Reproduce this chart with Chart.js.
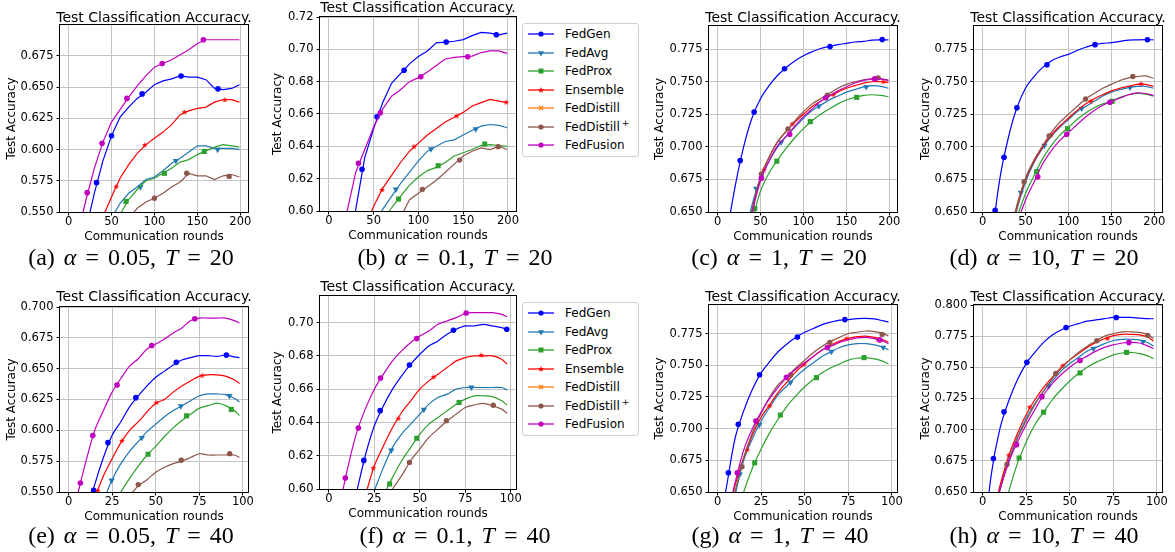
<!DOCTYPE html>
<html>
<head>
<meta charset="utf-8">
<script src="https://cdn.jsdelivr.net/npm/chart.js@4.4.1/dist/chart.umd.min.js"></script>
<style>
  body { margin:0; width:1175px; height:552px; background:#fff; position:relative; overflow:hidden; }
  canvas { position:absolute; }
  .t { position:absolute; transform:translate(-50%,-50%); white-space:nowrap; line-height:1.2; color:#000; }
  .ttl { font:14px "DejaVu Sans"; }
  .cap { font:24px "Liberation Serif"; word-spacing:3px; }
  .leg { position:absolute; width:115px; height:132px; border:1px solid #d0d0d0; border-radius:3px; background:#fff; font:12px "DejaVu Sans"; }
  .row { position:absolute; left:4px; height:18px; line-height:18px; white-space:nowrap; }
  .row svg { vertical-align:top; margin-right:10px; }
  .sup { position:relative; top:-5px; font-size:9px; line-height:0; margin-left:2px; }
</style>
</head>
<body>
<script>
var names = ['FedGen', 'FedAvg', 'FedProx', 'Ensemble', 'FedDistill', 'FedDistill<span class="sup">+</span>', 'FedFusion'];
var colors = ['#0000ff', '#1f77b4', '#2ca02c', '#ff0000', '#ff7f0e', '#8c564b', '#bf00bf'];

var rounds200 = [0,10,20,30,40,50,60,70,80,90,100,110,120,130,140,150,160,170,180,190,199];
var rounds100 = [0,5,10,15,20,25,30,35,40,45,50,55,60,65,70,75,80,85,90,95,98];
var n = null;

// (a) alpha 0.05, T 20
var aGen  = [n,n,0.535,0.565,0.591,0.611,0.626,0.634,0.641,0.646,0.652,0.655,0.6566,0.659,0.658,0.658,0.656,0.649,0.648,0.649,0.652];
var aAvg  = [n,n,n,n,n,0.545,0.557,0.565,0.570,0.576,0.578,0.583,0.589,0.593,0.598,0.603,0.603,0.601,0.601,0.601,0.600];
var aProx = [n,n,n,n,n,n,0.548,0.560,0.568,0.575,0.577,0.581,0.585,0.590,0.592,0.596,0.599,0.602,0.604,0.603,0.602];
var aEns  = [n,n,n,n,0.546,0.562,0.577,0.588,0.597,0.604,0.609,0.614,0.620,0.628,0.631,0.633,0.634,0.638,0.640,0.640,0.638];
var aDis  = [n,n,n,n,n,n,n,0.545,0.553,0.558,0.561,0.565,0.570,0.574,0.581,0.579,0.579,0.576,0.579,0.580,0.578];
var aFus  = [n,0.530,0.559,0.585,0.606,0.622,0.632,0.642,0.651,0.659,0.666,0.669,0.672,0.676,0.680,0.685,0.688,0.688,0.688,0.688,0.688];
var aGenMk  = [[32.6,0.5735],[50,0.611],[85.7,0.6446],[131,0.659],[174,0.6486]];
var aAvgMk  = [[83.7,0.570],[125,0.591],[173.6,0.600]];
var aProxMk = [[67,0.5585],[111.6,0.581],[158,0.5985]];
var aEnsMk  = [[55.4,0.5703],[88.8,0.6036],[135,0.630],[182,0.6398]];
var aDisMk  = [[100,0.561],[137.6,0.581],[187,0.5785]];
var aFusMk  = [[21.7,0.5655],[39,0.605],[68,0.641],[109,0.669],[157,0.688]];

// (b) alpha 0.1, T 20
var bGen  = [n,n,0.570,0.601,0.633,0.651,0.667,0.679,0.685,0.691,0.6955,0.699,0.704,0.7045,0.705,0.706,0.7085,0.7105,0.710,0.709,0.710];
var bAvg  = [n,n,n,n,n,0.590,0.601,0.609,0.617,0.624,0.631,0.637,0.640,0.643,0.644,0.647,0.650,0.6525,0.6535,0.653,0.6515];
var bProx = [n,n,n,n,n,n,0.594,0.602,0.609,0.616,0.621,0.625,0.627,0.630,0.634,0.636,0.638,0.6405,0.641,0.6405,0.640];
var bEns  = [n,n,n,n,0.590,0.603,0.614,0.622,0.630,0.637,0.642,0.647,0.651,0.655,0.658,0.661,0.665,0.667,0.669,0.668,0.667];
var bDis  = [n,n,n,n,n,n,n,n,0.596,0.607,0.611,0.615,0.619,0.624,0.629,0.634,0.637,0.639,0.638,0.640,0.638];
var bFus  = [n,0.570,0.599,0.624,0.638,0.652,0.663,0.671,0.675,0.680,0.6825,0.686,0.690,0.694,0.695,0.6955,0.6958,0.698,0.699,0.699,0.6975];
var bGenMk  = [[37,0.6258],[53.7,0.6583],[84,0.687],[131,0.7045],[187,0.709]];
var bAvgMk  = [[74.8,0.6134],[114,0.6383],[164,0.6507]];
var bProxMk = [[77.8,0.6074],[122,0.628],[174,0.6414]];
var bEnsMk  = [[59.3,0.613],[95,0.6398],[142.6,0.6587],[198,0.6672]];
var bDisMk  = [[104.4,0.6134],[146,0.6315],[189,0.6398]];
var bFusMk  = [[33,0.6295],[57.4,0.6608],[102.6,0.683],[155,0.6954]];

// (c) alpha 1, T 20
var cGen  = [n,0.630,0.668,0.699,0.722,0.737,0.747,0.755,0.761,0.766,0.770,0.773,0.7755,0.777,0.7785,0.7795,0.7805,0.781,0.782,0.7822,0.7822];
var cAvg  = [n,n,n,0.625,0.655,0.676,0.689,0.700,0.708,0.715,0.722,0.728,0.732,0.736,0.739,0.742,0.744,0.746,0.747,0.7465,0.745];
var cProx = [n,n,n,0.615,0.642,0.666,0.680,0.690,0.699,0.707,0.714,0.720,0.725,0.729,0.733,0.736,0.738,0.7395,0.740,0.7395,0.7385];
var cEns  = [n,n,n,0.615,0.650,0.676,0.692,0.704,0.712,0.719,0.725,0.731,0.735,0.739,0.742,0.745,0.747,0.749,0.750,0.750,0.7495];
var cDis  = [n,n,n,0.615,0.651,0.677,0.692,0.704,0.712,0.720,0.727,0.733,0.737,0.741,0.745,0.748,0.750,0.7515,0.7525,0.7525,0.751];
var cFus  = [n,n,n,0.612,0.648,0.674,0.689,0.701,0.708,0.716,0.723,0.729,0.735,0.739,0.743,0.746,0.749,0.751,0.752,0.752,0.751];
var cGenMk  = [[26.4,0.6895],[42.6,0.7268],[78,0.760],[131,0.777],[191.7,0.7824]];
var cAvgMk  = [[45,0.668],[74,0.7036],[118,0.7313],[173,0.746]];
var cProxMk = [[43.4,0.6526],[69,0.689],[108,0.7194],[162,0.738]];
var cEnsMk  = [[54,0.6824],[87,0.7175],[135,0.740],[193,0.750]];
var cDisMk  = [[51,0.6793],[82,0.7138],[128,0.7397],[187,0.753]];
var cFusMk  = [[51,0.676],[84,0.7097],[126,0.7377],[183,0.7522]];

// (d) alpha 10, T 20
var dGen  = [n,0.625,0.675,0.707,0.730,0.745,0.754,0.761,0.766,0.769,0.771,0.774,0.7765,0.7785,0.7795,0.780,0.781,0.782,0.7822,0.7823,0.7822];
var dAvg  = [n,n,n,0.625,0.652,0.673,0.688,0.699,0.708,0.715,0.721,0.727,0.731,0.735,0.739,0.742,0.744,0.7455,0.7465,0.7465,0.745];
var dProx = [n,n,n,0.618,0.645,0.664,0.678,0.691,0.701,0.709,0.715,0.721,0.726,0.730,0.733,0.735,0.738,0.740,0.741,0.7405,0.739];
var dEns  = [n,n,n,0.627,0.654,0.675,0.689,0.700,0.709,0.716,0.722,0.728,0.733,0.737,0.740,0.743,0.745,0.7465,0.748,0.748,0.7465];
var dDis  = [n,n,n,0.628,0.655,0.676,0.690,0.701,0.711,0.719,0.725,0.731,0.7367,0.741,0.745,0.748,0.751,0.753,0.754,0.7545,0.7525];
var dFus  = [n,n,n,0.612,0.640,0.659,0.673,0.687,0.697,0.705,0.711,0.717,0.723,0.728,0.732,0.735,0.7375,0.740,0.7415,0.741,0.7395];
var dGenMk  = [[14.7,0.6513],[25,0.692],[40,0.730],[75,0.763],[131,0.7785],[192,0.7823]];
var dAvgMk  = [[44.6,0.665],[72,0.701],[115.5,0.7295],[171.7,0.7456]];
var dProxMk = [[63,0.681],[99,0.714],[151,0.735]];
var dEnsMk  = [[79.5,0.709],[126,0.735],[184.5,0.7484]];
var dDisMk  = [[48.4,0.6732],[77.5,0.7084],[120,0.7367],[175,0.754]];
var dFusMk  = [[64.3,0.677],[98,0.7097],[148.4,0.7343]];

// (e) alpha 0.05, T 40
var eGen  = [n,n,0.530,0.556,0.578,0.596,0.607,0.619,0.628,0.636,0.643,0.648,0.653,0.657,0.659,0.6605,0.6605,0.660,0.661,0.6595,0.659];
var eAvg  = [n,n,n,n,0.543,0.560,0.573,0.583,0.591,0.599,0.605,0.611,0.616,0.620,0.624,0.628,0.6295,0.6295,0.629,0.626,0.623];
var eProx = [n,n,n,n,n,0.538,0.550,0.561,0.571,0.580,0.587,0.595,0.602,0.608,0.613,0.618,0.620,0.622,0.620,0.616,0.612];
var eEns  = [n,n,n,0.545,0.563,0.577,0.590,0.600,0.607,0.615,0.622,0.625,0.631,0.636,0.640,0.644,0.645,0.645,0.644,0.641,0.638];
var eDis  = [n,n,n,n,n,n,n,0.547,0.555,0.560,0.566,0.570,0.573,0.575,0.578,0.581,0.580,0.580,0.580,0.580,0.578];
var eFus  = [n,0.547,0.575,0.600,0.616,0.631,0.642,0.652,0.658,0.666,0.670,0.674,0.679,0.683,0.689,0.691,0.691,0.691,0.691,0.689,0.687];
var eGenMk  = [[14.4,0.5514],[22.6,0.590],[38.6,0.6265],[61.8,0.6552],[90.5,0.661]];
var eAvgMk  = [[24.7,0.5595],[42,0.594],[64.4,0.6197],[92.2,0.628]];
var eProxMk = [[45.6,0.5806],[67.7,0.6118],[93.3,0.617]];
var eEnsMk  = [[16.7,0.551],[30.6,0.5915],[50.4,0.6224],[76.6,0.6444]];
var eDisMk  = [[40,0.556],[64.6,0.5758],[92.4,0.5811]];
var eFusMk  = [[6.8,0.5573],[13.9,0.5958],[27.8,0.6368],[47.7,0.6688],[72.4,0.6905]];

// (f) alpha 0.1, T 40
var fGen  = [n,n,n,0.597,0.620,0.638,0.650,0.660,0.668,0.675,0.681,0.686,0.689,0.693,0.696,0.698,0.698,0.699,0.698,0.697,0.696];
var fAvg  = [n,n,n,n,n,0.599,0.613,0.625,0.633,0.639,0.645,0.651,0.655,0.657,0.660,0.661,0.661,0.661,0.661,0.661,0.6595];
var fProx = [n,n,n,n,n,n,0.596,0.607,0.617,0.625,0.633,0.639,0.643,0.647,0.651,0.654,0.656,0.656,0.6555,0.653,0.6505];
var fEns  = [n,n,n,n,0.596,0.614,0.626,0.637,0.646,0.653,0.660,0.665,0.669,0.673,0.677,0.679,0.680,0.680,0.680,0.678,0.675];
var fDis  = [n,n,n,n,n,n,0.590,0.600,0.608,0.617,0.624,0.631,0.636,0.641,0.645,0.649,0.6505,0.6515,0.650,0.648,0.6455];
var fFus  = [n,0.585,0.611,0.633,0.648,0.660,0.669,0.677,0.683,0.688,0.692,0.695,0.699,0.701,0.703,0.7055,0.706,0.706,0.706,0.705,0.7035];
var fGenMk  = [[19.2,0.6172],[28.2,0.6471],[44.3,0.6745],[68.5,0.6954],[97.8,0.696]];
var fAvgMk  = [[34.3,0.6232],[52.2,0.6477],[78.4,0.6611]];
var fProxMk = [[33.4,0.603],[48.3,0.6305],[71.6,0.652]];
var fEnsMk  = [[24.4,0.6126],[38.2,0.6423],[57.6,0.6673],[83.8,0.6804]];
var fDisMk  = [[44.3,0.616],[64.6,0.641],[90.4,0.6503]];
var fFusMk  = [[9,0.6066],[16.2,0.6367],[28.4,0.6667],[48.3,0.6904],[75.5,0.7058]];

// (g) alpha 1, T 40
var gGen  = [0.615,0.653,0.692,0.714,0.731,0.744,0.753,0.761,0.767,0.772,0.776,0.779,0.782,0.784,0.7855,0.786,0.7868,0.787,0.7865,0.785,0.784];
var gAvg  = [n,0.615,0.647,0.675,0.692,0.706,0.717,0.727,0.734,0.741,0.747,0.752,0.757,0.7605,0.764,0.766,0.767,0.767,0.766,0.764,0.762];
var gProx = [n,n,0.625,0.650,0.669,0.684,0.697,0.708,0.718,0.726,0.733,0.739,0.744,0.748,0.751,0.754,0.7555,0.756,0.755,0.753,0.751];
var gEns  = [n,0.625,0.655,0.677,0.695,0.709,0.719,0.729,0.737,0.745,0.751,0.757,0.762,0.766,0.769,0.7712,0.7725,0.773,0.772,0.770,0.768];
var gDis  = [n,0.620,0.650,0.677,0.697,0.712,0.725,0.735,0.741,0.748,0.754,0.760,0.765,0.769,0.772,0.775,0.776,0.777,0.7765,0.775,0.773];
var gFus  = [n,0.625,0.657,0.683,0.700,0.713,0.724,0.733,0.741,0.747,0.752,0.757,0.762,0.765,0.768,0.770,0.7715,0.772,0.771,0.769,0.767];
var gGenMk  = [[6.2,0.6652],[11.9,0.7034],[24.1,0.7425],[45.8,0.7723],[73,0.786]];
var gAvgMk  = [[12.8,0.664],[23.9,0.703],[41.8,0.7365],[65.3,0.7608],[95,0.764]];
var gProxMk = [[21.3,0.673],[36,0.7107],[56.7,0.7402],[84,0.756]];
var gEnsMk  = [[17,0.6833],[29.8,0.718],[49.5,0.7506],[74,0.771],[92,0.770]];
var gDisMk  = [[14,0.670],[42,0.7425],[64.4,0.768],[94.4,0.7742]];
var gFusMk  = [[11.3,0.6652],[22,0.706],[39.5,0.7404],[63,0.764],[93,0.770]];

// (h) alpha 10, T 40
var hGen  = [0.600,0.664,0.701,0.723,0.740,0.753,0.762,0.770,0.776,0.780,0.783,0.785,0.787,0.788,0.789,0.790,0.790,0.790,0.7895,0.789,0.789];
var hAvg  = [n,0.620,0.652,0.676,0.694,0.709,0.721,0.731,0.739,0.747,0.753,0.758,0.763,0.766,0.769,0.7715,0.7725,0.7725,0.772,0.7695,0.767];
var hProx = [n,n,0.622,0.650,0.673,0.690,0.704,0.714,0.724,0.732,0.739,0.745,0.750,0.754,0.757,0.760,0.7615,0.762,0.761,0.759,0.757];
var hEns  = [n,0.625,0.655,0.679,0.697,0.712,0.724,0.734,0.742,0.750,0.756,0.761,0.766,0.770,0.773,0.7755,0.7765,0.7765,0.776,0.774,0.771];
var hDis  = [n,0.625,0.652,0.674,0.693,0.707,0.720,0.731,0.741,0.749,0.756,0.762,0.767,0.771,0.775,0.777,0.7785,0.7785,0.778,0.776,0.773];
var hFus  = [n,0.620,0.652,0.674,0.690,0.704,0.716,0.728,0.737,0.744,0.750,0.755,0.759,0.763,0.766,0.768,0.7695,0.770,0.7695,0.767,0.765];
var hGenMk  = [[6.25,0.6768],[12.3,0.7143],[25.4,0.754],[47.9,0.782],[76.7,0.790]];
var hAvgMk  = [[38,0.735],[63.6,0.765],[92,0.7705]];
var hProxMk = [[21,0.6773],[35,0.714],[55.9,0.7455],[82.6,0.762]];
var hEnsMk  = [[15,0.6795],[27,0.718],[46,0.7513],[71.6,0.773]];
var hDisMk  = [[14,0.672],[42,0.745],[65.5,0.7713],[94.7,0.7756]];
var hFusMk  = [[19.5,0.688],[34,0.7265],[55.9,0.7555],[83.9,0.770]];

// which style (index into names/colors) each plotted series uses
var plotted = [0, 1, 2, 3, 5, 6];

// ---------------------------------------------------------- markers
function starCanvas(color, r) {
    var c = document.createElement('canvas');
    var s = Math.ceil(r * 2) + 2;
    c.width = s; c.height = s;
    var x = c.getContext('2d');
    x.fillStyle = color;
    x.beginPath();
    for (var i = 0; i < 10; i++) {
        var rr = i % 2 ? r * 0.45 : r;
        var a = -Math.PI / 2 + i * Math.PI / 5;
        x.lineTo(s / 2 + rr * Math.cos(a), s / 2 + rr * Math.sin(a));
    }
    x.closePath();
    x.fill();
    return c;
}
var marker = [
    {style: 'circle', r: 2.8, rot: 0},
    {style: 'triangle', r: 3.6, rot: 180},
    {style: 'rect', r: 3.6, rot: 0},
    {style: starCanvas('#ff0000', 3), r: 3, rot: 0},
    {style: 'crossRot', r: 3, rot: 0},
    {style: 'circle', r: 2.7, rot: 0},
    {style: 'circle', r: 2.8, rot: 0}
];

var frame = {
    id: 'frame',
    afterDraw: function (chart) {
        var a = chart.chartArea, c = chart.ctx;
        c.save();
        c.strokeStyle = '#000';
        c.lineWidth = 1;
        c.strokeRect(a.left - 0.5, a.top - 0.5, a.right - a.left + 1, a.bottom - a.top + 1);
        c.restore();
    }
};

function addText(cls, x, y, html) {
    var d = document.createElement('div');
    d.className = 't ' + cls;
    d.style.left = x + 'px';
    d.style.top = y + 'px';
    d.innerHTML = html;
    document.body.appendChild(d);
}

// ---------------------------------------------------------- panels
var top200 = {rounds: rounds200, xmin: -9.95, xmax: 208.95, xstep: 50};
var bot100 = {rounds: rounds100, xmin: -4.9, xmax: 102.9, xstep: 25};

var panels = [
    {x: top200, l: 60,  t: 25,  w: 188, h: 187, yW: 55, ymin: 0.55, ymax: 0.6998, ystep: 0.025, dec: 3, tension: 0,
     lines: [aGen, aAvg, aProx, aEns, aDis, aFus], marks: [aGenMk, aAvgMk, aProxMk, aEnsMk, aDisMk, aFusMk],
     titleY: 16.7, cap: '(a) <i>α</i> = 0.05, <i>T</i> = 20', capX: 131, capY: 256.5},
    {x: top200, l: 320, t: 17,  w: 196, h: 194, yW: 49, ymin: 0.60, ymax: 0.72, ystep: 0.02, dec: 2, tension: 0,
     lines: [bGen, bAvg, bProx, bEns, bDis, bFus], marks: [bGenMk, bAvgMk, bProxMk, bEnsMk, bDisMk, bFusMk],
     titleY: 7.3, cap: '(b) <i>α</i> = 0.1, <i>T</i> = 20', capX: 455, capY: 256.5},
    {x: top200, l: 709, t: 26,  w: 188, h: 186, yW: 56, ymin: 0.65, ymax: 0.7928, ystep: 0.025, dec: 3, tension: 0.35,
     lines: [cGen, cAvg, cProx, cEns, cDis, cFus], marks: [cGenMk, cAvgMk, cProxMk, cEnsMk, cDisMk, cFusMk],
     titleY: 16.7, cap: '(c) <i>α</i> = 1, <i>T</i> = 20', capX: 779, capY: 256.5},
    {x: top200, l: 974, t: 26,  w: 188, h: 186, yW: 55, ymin: 0.65, ymax: 0.7928, ystep: 0.025, dec: 3, tension: 0.35,
     lines: [dGen, dAvg, dProx, dEns, dDis, dFus], marks: [dGenMk, dAvgMk, dProxMk, dEnsMk, dDisMk, dFusMk],
     titleY: 16.7, cap: '(d) <i>α</i> = 10, <i>T</i> = 20', capX: 1044, capY: 256.5},
    {x: bot100, l: 60,  t: 307, w: 188, h: 185, yW: 55, ymin: 0.55, ymax: 0.70, ystep: 0.025, dec: 3, tension: 0.3,
     lines: [eGen, eAvg, eProx, eEns, eDis, eFus], marks: [eGenMk, eAvgMk, eProxMk, eEnsMk, eDisMk, eFusMk],
     titleY: 295.7, cap: '(e) <i>α</i> = 0.05, <i>T</i> = 40', capX: 131, capY: 534.5},
    {x: bot100, l: 320, t: 296, w: 196, h: 193, yW: 49, ymin: 0.60, ymax: 0.716, ystep: 0.02, dec: 2, tension: 0.3,
     lines: [fGen, fAvg, fProx, fEns, fDis, fFus], marks: [fGenMk, fAvgMk, fProxMk, fEnsMk, fDisMk, fFusMk],
     titleY: 286.3, cap: '(f) <i>α</i> = 0.1, <i>T</i> = 40', capX: 455, capY: 534.5},
    {x: bot100, l: 709, t: 305, w: 188, h: 187, yW: 56, ymin: 0.65, ymax: 0.7975, ystep: 0.025, dec: 3, tension: 0.35,
     lines: [gGen, gAvg, gProx, gEns, gDis, gFus], marks: [gGenMk, gAvgMk, gProxMk, gEnsMk, gDisMk, gFusMk],
     titleY: 295.7, cap: '(g) <i>α</i> = 1, <i>T</i> = 40', capX: 780, capY: 534.5},
    {x: bot100, l: 974, t: 305, w: 188, h: 187, yW: 55, ymin: 0.65, ymax: 0.80, ystep: 0.025, dec: 3, tension: 0.35,
     lines: [hGen, hAvg, hProx, hEns, hDis, hFus], marks: [hGenMk, hAvgMk, hProxMk, hEnsMk, hDisMk, hFusMk],
     titleY: 295.7, cap: '(h) <i>α</i> = 10, <i>T</i> = 40', capX: 1044, capY: 534.5}
];

var tickFont = {family: 'DejaVu Sans', size: 11.5};
var labFont = {family: 'DejaVu Sans', size: 12};

function makePanel(p) {
    var padTop = 10, padRight = 14, xH = 32;
    var cv = document.createElement('canvas');
    cv.width = p.yW + p.w + padRight;
    cv.height = padTop + p.h + xH;
    cv.style.left = (p.l - p.yW) + 'px';
    cv.style.top = (p.t - padTop) + 'px';
    document.body.appendChild(cv);

    var datasets = [];
    p.lines.forEach(function (ys, k) {
        var si = plotted[k];
        datasets.push({
            data: p.x.rounds.map(function (r, j) { return {x: r, y: ys[j]}; }),
            borderColor: colors[si], borderWidth: 1.2, pointRadius: 0,
            tension: p.tension, clip: 0, order: (7 - si) * 2
        });
        datasets.push({
            data: p.marks[k].map(function (m) { return {x: m[0], y: m[1]}; }),
            showLine: false, pointStyle: marker[si].style, pointRadius: marker[si].r,
            pointRotation: marker[si].rot, pointBackgroundColor: colors[si],
            pointBorderColor: colors[si], pointBorderWidth: 0, clip: 0, order: (7 - si) * 2 - 1
        });
    });

    new Chart(cv, {
        type: 'line',
        data: {datasets: datasets},
        options: {
            responsive: false, animation: false, events: [],
            layout: {padding: {left: 0, top: padTop, right: padRight, bottom: 0}},
            plugins: {legend: {display: false}, tooltip: {enabled: false}},
            scales: {
                x: {
                    type: 'linear', min: p.x.xmin, max: p.x.xmax,
                    afterFit: function (s) { s.height = xH; },
                    border: {display: false},
                    grid: {color: '#c4c4c4', tickColor: '#000', tickLength: 3.5, lineWidth: 1},
                    ticks: {stepSize: p.x.xstep, includeBounds: false, font: tickFont, color: '#000', padding: 0,
                            maxRotation: 0, autoSkip: false, callback: function (v) { return String(v); }},
                    title: {display: true, text: 'Communication rounds', font: labFont, color: '#000', padding: 0}
                },
                y: {
                    type: 'linear', min: p.ymin, max: p.ymax,
                    afterFit: function (s) { s.width = p.yW; },
                    border: {display: false},
                    grid: {color: '#c4c4c4', tickColor: '#000', tickLength: 3.5, lineWidth: 1},
                    ticks: {stepSize: p.ystep, includeBounds: false, font: tickFont, color: '#000', padding: 3,
                            autoSkip: false, callback: function (v) { return v.toFixed(p.dec); }},
                    title: {display: true, text: 'Test Accuracy', font: labFont, color: '#000', padding: 0}
                }
            }
        },
        plugins: [frame]
    });

    addText('ttl', p.l + p.w / 2, p.titleY, 'Test Classification Accuracy.');
    addText('cap', p.capX, p.capY, p.cap);
}

panels.forEach(makePanel);

// ---------------------------------------------------------- legends
function legendIcon(si) {
    var c = colors[si], m = '';
    if (si === 0 || si === 5 || si === 6) m = '<circle cx="14" cy="9" r="2.6" fill="' + c + '"/>';
    if (si === 1) m = '<polygon points="11,7.3 17,7.3 14,12.4" fill="' + c + '"/>';
    if (si === 2) m = '<rect x="11.5" y="6.5" width="5" height="5" fill="' + c + '"/>';
    if (si === 3) m = '<polygon points="14,6 14.8,8.1 17,8.1 15.3,9.5 15.9,11.7 14,10.4 12.1,11.7 12.7,9.5 11,8.1 13.2,8.1" fill="' + c + '"/>';
    if (si === 4) m = '<path d="M12 7 L16 11 M16 7 L12 11" stroke="' + c + '" stroke-width="1.3"/>';
    return '<svg width="28" height="18"><line x1="1" y1="9" x2="27" y2="9" stroke="' + c + '" stroke-width="1.3"/>' + m + '</svg>';
}

function makeLegend(left, top) {
    var d = document.createElement('div');
    d.className = 'leg';
    d.style.left = left + 'px';
    d.style.top = top + 'px';
    var html = '';
    for (var i = 0; i < names.length; i++) {
        html += '<div class="row" style="top:' + (1.3 + i * 18.45).toFixed(1) + 'px">' + legendIcon(i) + names[i] + '</div>';
    }
    d.innerHTML = html;
    document.body.appendChild(d);
}
makeLegend(522, 23);
makeLegend(522, 302);
</script>
</body>
</html>
